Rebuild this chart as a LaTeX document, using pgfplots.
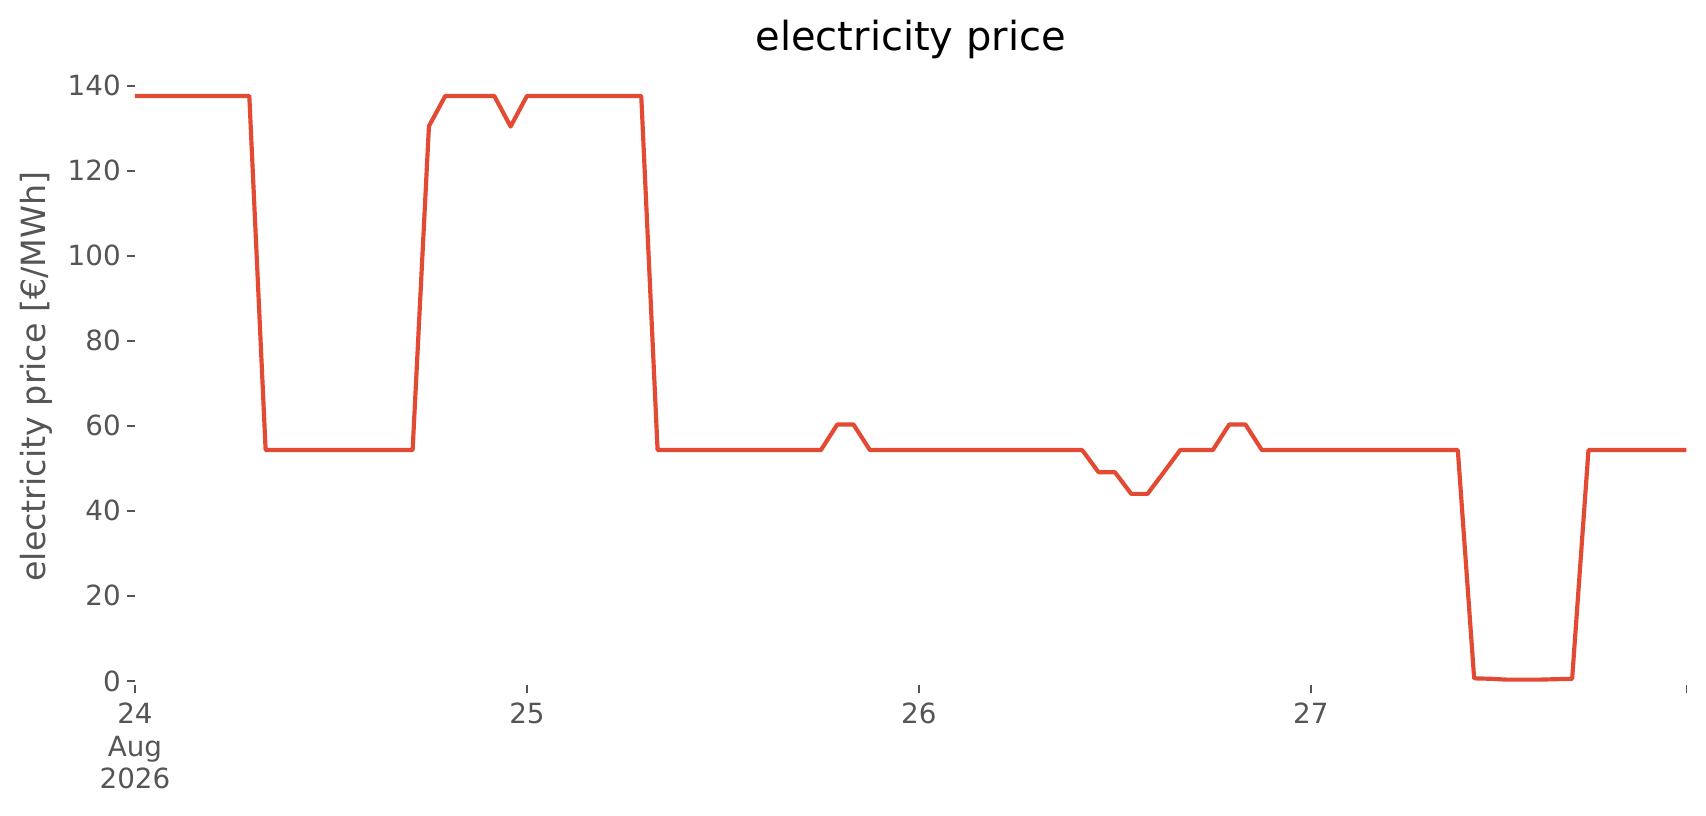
\documentclass[border=0pt]{standalone}
\usepackage{fontspec}
\setmainfont{DejaVu Sans}
\usepackage{pgfplots}
\usepackage{pgfplotstable}
\pgfplotsset{compat=1.18}
\definecolor{linered}{HTML}{E24A33}
\definecolor{txtgray}{HTML}{555555}

% hourly price, hour 0 = 24 Aug 2026 00:00
\pgfplotstableread{
h price
0 137.6
1 137.6
2 137.6
3 137.6
4 137.6
5 137.6
6 137.6
7 137.6
8 54.3
9 54.3
10 54.3
11 54.3
12 54.3
13 54.3
14 54.3
15 54.3
16 54.3
17 54.3
18 130.5
19 137.6
20 137.6
21 137.6
22 137.6
23 130.4
24 137.6
25 137.6
26 137.6
27 137.6
28 137.6
29 137.6
30 137.6
31 137.6
32 54.3
33 54.3
34 54.3
35 54.3
36 54.3
37 54.3
38 54.3
39 54.3
40 54.3
41 54.3
42 54.3
43 60.3
44 60.3
45 54.3
46 54.3
47 54.3
48 54.3
49 54.3
50 54.3
51 54.3
52 54.3
53 54.3
54 54.3
55 54.3
56 54.3
57 54.3
58 54.3
59 49.1
60 49.1
61 44.0
62 44.0
63 49.1
64 54.3
65 54.3
66 54.3
67 60.3
68 60.3
69 54.3
70 54.3
71 54.3
72 54.3
73 54.3
74 54.3
75 54.3
76 54.3
77 54.3
78 54.3
79 54.3
80 54.3
81 54.3
82 0.6
83 0.5
84 0.3
85 0.3
86 0.3
87 0.4
88 0.5
89 54.3
90 54.3
91 54.3
92 54.3
93 54.3
94 54.3
95 54.3
}\pricetable

\begin{document}
\begin{tikzpicture}
\begin{axis}[
  scale only axis,
  width=558.5pt, height=222.2pt,
  xmin=0, xmax=95, ymin=-1, ymax=144.2,
  axis line style={draw=none},
  tick align=outside,
  xtick pos=bottom, ytick pos=left,
  major tick length=3pt,
  tick style={txtgray, line width=0.7pt},
  xtick={0,24,48,72,95},
  xticklabels={{24\\Aug\\2026},25,26,27,{}},
  ytick={0,20,...,140},
  /pgf/number format/assume math mode=true,
  ticklabel style={font=\fontsize{10}{11.7}\selectfont, text=txtgray},
  xticklabel style={align=center},
  yticklabel style={xshift=1.4pt},
  ylabel={electricity price [€/MWh]},
  ylabel style={font=\fontsize{12}{14}\selectfont, text=txtgray,
    at={(axis description cs:-0.058,0.5)}, anchor=base},
  title={electricity price},
  % yshift accumulates, so cancel the default 6pt
  title style={font=\fontsize{14.4}{17}\selectfont, inner sep=0pt,
    at={(axis description cs:0.5,1.0279)}, anchor=base, yshift=-6pt},
  clip=false,
]
\addplot[linered, line width=1.5pt, line join=round] table[x=h, y=price] {\pricetable};
% page frame matching the reference margins
\path[draw=none] (axis description cs:-0.087,-0.2107) rectangle (axis description cs:1.0126,1.110);
\end{axis}
\end{tikzpicture}
\end{document}
